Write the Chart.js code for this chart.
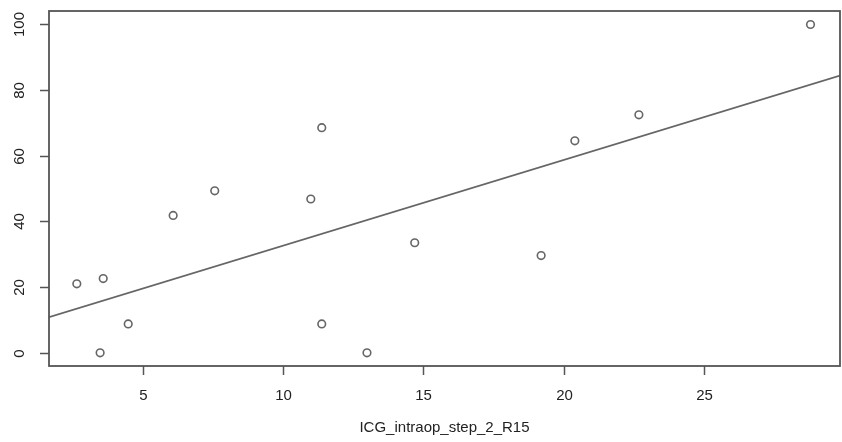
<!DOCTYPE html>
<html>
<head>
<meta charset="utf-8">
<script src="https://cdn.jsdelivr.net/npm/chart.js@4"></script>
<style>
  body { margin: 0; background: #fff; }
</style>
</head>
<body>
<canvas id="chart" width="842" height="442"></canvas>
<script>
// values
const xValues = [2.66, 3.6, 3.49, 4.49, 6.09, 7.57, 10.99, 11.38, 11.38, 12.99, 14.69, 19.19, 20.39, 22.67, 28.78];
const yValues = [21.0, 22.6, 0, 8.8, 41.8, 49.3, 46.8, 68.5, 8.8, 0, 33.5, 29.6, 64.5, 72.4, 99.9];
const xTicks = [5, 10, 15, 20, 25];
const yTicks = [0, 20, 40, 60, 80, 100];
const xTitle = 'ICG_intraop_step_2_R15';
// fitted line y = fitIntercept + fitSlope * x
const fitIntercept = 6.5;
const fitSlope = 2.61;

const xMin = 1.67, xMax = 29.83;
const yMin = -4, yMax = 104;

const ink = '#555';
const textInk = '#222';
const font = '15px "Liberation Sans", Arial, sans-serif';

// R style box, ticks and labels drawn from the chart's scales
const rAxes = {
    id: 'rAxes',
    afterDatasetsDraw(chart) {
        const ctx = chart.ctx;
        const area = chart.chartArea;
        const xs = chart.scales.x;
        const ys = chart.scales.y;
        ctx.save();
        ctx.strokeStyle = ink;
        ctx.lineWidth = 1.8;
        ctx.strokeRect(area.left, area.top, area.right - area.left, area.bottom - area.top);

        ctx.fillStyle = textInk;
        ctx.font = font;

        // x axis
        ctx.lineWidth = 1.5;
        ctx.textAlign = 'center';
        ctx.textBaseline = 'middle';
        xTicks.forEach(v => {
            const px = Math.round(xs.getPixelForValue(v)) + 0.5;
            ctx.beginPath();
            ctx.moveTo(px, area.bottom);
            ctx.lineTo(px, area.bottom + 9);
            ctx.stroke();
            ctx.fillText(String(v), px, area.bottom + 30);
        });

        // y axis, labels turned like R does
        yTicks.forEach(v => {
            const py = Math.round(ys.getPixelForValue(v)) + 0.5;
            ctx.beginPath();
            ctx.moveTo(area.left, py);
            ctx.lineTo(area.left - 9, py);
            ctx.stroke();
            ctx.save();
            ctx.translate(area.left - 29, py);
            ctx.rotate(-Math.PI / 2);
            ctx.fillText(String(v), 0, 0);
            ctx.restore();
        });

        ctx.fillText(xTitle, (area.left + area.right) / 2, area.bottom + 62);
        ctx.restore();
    }
};

const points = xValues.map((x, i) => ({ x: x, y: yValues[i] }));
const fitLine = [
    { x: xMin, y: fitIntercept + fitSlope * xMin },
    { x: xMax, y: fitIntercept + fitSlope * xMax }
];

new Chart(document.getElementById('chart').getContext('2d'), {
    type: 'scatter',
    data: {
        datasets: [
            {
                data: points,
                pointStyle: 'circle',
                pointRadius: 3.8,
                pointBorderWidth: 1.6,
                pointBorderColor: '#666',
                pointBackgroundColor: 'rgba(255,255,255,0)'
            },
            {
                type: 'line',
                data: fitLine,
                borderColor: '#666',
                borderWidth: 1.6,
                pointRadius: 0,
                fill: false,
                tension: 0
            }
        ]
    },
    options: {
        responsive: false,
        animation: false,
        layout: {
            autoPadding: false,
            padding: { left: 49, right: 2, top: 11, bottom: 76 }
        },
        scales: {
            x: { type: 'linear', min: xMin, max: xMax, display: false },
            y: { type: 'linear', min: yMin, max: yMax, display: false }
        },
        plugins: {
            legend: { display: false },
            tooltip: { enabled: false }
        }
    },
    plugins: [rAxes]
});
</script>
</body>
</html>
